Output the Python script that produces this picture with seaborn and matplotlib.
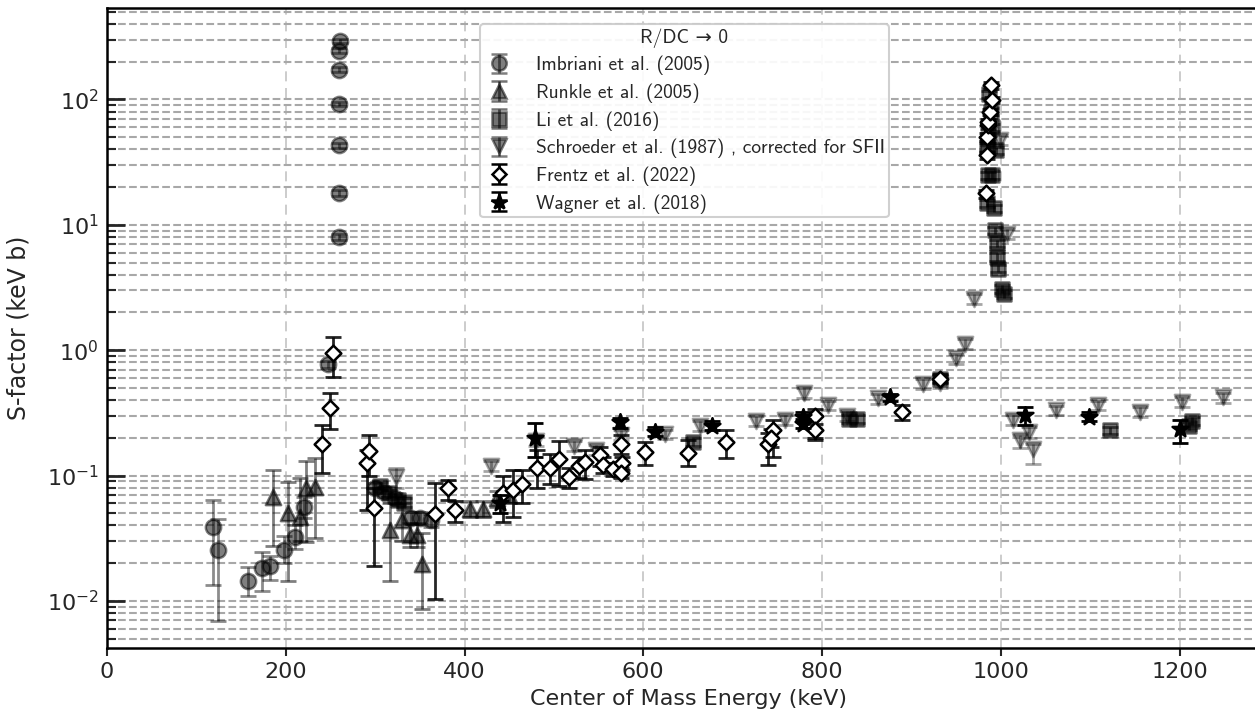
import numpy as np
import matplotlib
matplotlib.use("Agg")
import matplotlib.pyplot as plt
import seaborn as sns
import pandas as pd

# ---- data: centre-of-mass energy (keV), S-factor (keV b), lower / upper error bounds ----
imb_E = [119, 124, 158, 173, 182, 198, 210, 220, 247.7,
         259, 259, 259, 259, 260, 260, 261, 300, 310, 322, 340, 350, 362]
imb_S = [0.039, 0.0254, 0.0145, 0.0184, 0.019, 0.0256, 0.0325, 0.0563, 0.77,
         8.0, 17.9, 43.0, 92.0, 172.0, 245.0, 292.0, 0.080, 0.074, 0.066, 0.046, 0.046, 0.044]
imb_lo = [0.0134, 0.0069, 0.011, 0.012, 0.0147, 0.020, 0.026, 0.046, 0.72,
          7.6, 17.0, 41.0, 88.0, 165.0, 235.0, 280.0, 0.072, 0.067, 0.060, 0.041, 0.041, 0.039]
imb_hi = [0.064, 0.045, 0.0186, 0.0245, 0.023, 0.033, 0.040, 0.068, 0.82,
          8.4, 18.8, 45.0, 96.0, 180.0, 255.0, 304.0, 0.088, 0.081, 0.072, 0.051, 0.051, 0.049]

run_E = [186, 203, 216, 223, 232.7, 317, 330, 339, 346.5, 352, 406, 421, 436, 450]
run_S = [0.068, 0.050, 0.047, 0.079, 0.081, 0.0367, 0.044, 0.0335, 0.0335, 0.0199,
         0.0546, 0.0546, 0.066, 0.070]
run_lo = [0.0275, 0.0144, 0.030, 0.0296, 0.0316, 0.0144, 0.030, 0.027, 0.027, 0.0086,
          0.047, 0.047, 0.056, 0.060]
run_hi = [0.110, 0.0886, 0.095, 0.131, 0.137, 0.060, 0.060, 0.042, 0.042, 0.035,
          0.063, 0.063, 0.076, 0.080]

li_E = [305, 316, 326, 332, 656, 830, 839, 932,
        984, 995, 986, 990, 984, 992, 994, 995.5, 995.5, 997, 1001, 1003,
        987, 989, 990, 986, 1122, 1210, 1214]
li_S = [0.083, 0.072, 0.064, 0.061, 0.186, 0.285, 0.285, 0.594,
        41.8, 39.4, 24.9, 25.0, 14.8, 13.5, 9.06, 7.1, 5.54, 4.48, 3.1, 2.83,
        110.0, 80.0, 60.0, 48.0, 0.230, 0.250, 0.273]
li_lo = [0.077, 0.067, 0.059, 0.056, 0.172, 0.265, 0.265, 0.555,
         39.0, 36.8, 23.2, 23.3, 13.8, 12.6, 8.45, 6.6, 5.15, 4.17, 2.88, 2.62,
         103.0, 74.5, 56.0, 44.8, 0.214, 0.233, 0.254]
li_hi = [0.089, 0.077, 0.069, 0.066, 0.200, 0.305, 0.305, 0.633,
         44.6, 42.0, 26.6, 26.7, 15.8, 14.4, 9.67, 7.6, 5.93, 4.79, 3.32, 3.04,
         117.0, 85.5, 64.0, 51.2, 0.246, 0.267, 0.292]

sch_E = [323, 430, 480, 522, 547, 575, 624, 663.5, 726, 758.6, 780, 807, 828, 863,
         913, 932, 950, 960, 970, 998.5, 1006.7, 1014, 1021.6, 1031, 1035.6, 1062,
         1108.5, 1156, 1202.5, 1249]
sch_S = [0.0966, 0.119, 0.190, 0.172, 0.160, 0.210, 0.214, 0.248, 0.273, 0.280, 0.457,
         0.364, 0.298, 0.412, 0.542, 0.550, 0.859, 1.13, 2.58, 47.3, 8.52, 0.277, 0.191,
         0.223, 0.164, 0.332, 0.364, 0.322, 0.387, 0.420]
sch_lo = [0.080, 0.108, 0.172, 0.156, 0.146, 0.191, 0.195, 0.226, 0.249, 0.255, 0.416,
          0.331, 0.271, 0.375, 0.493, 0.500, 0.782, 1.03, 2.35, 43.0, 7.75, 0.252, 0.165,
          0.200, 0.123, 0.302, 0.331, 0.293, 0.352, 0.382]
sch_hi = [0.115, 0.130, 0.208, 0.188, 0.174, 0.229, 0.233, 0.270, 0.297, 0.305, 0.498,
          0.397, 0.325, 0.449, 0.591, 0.600, 0.936, 1.23, 2.81, 51.6, 9.29, 0.302, 0.210,
          0.243, 0.180, 0.362, 0.397, 0.351, 0.422, 0.458]

fr_E = [240, 249, 253, 290.5, 293, 299, 367, 382, 389, 443.5, 454.6, 464, 481, 496, 506,
        517, 528.5, 535, 551.6, 555, 566, 575, 576, 575, 602, 650, 693, 740, 745.6, 743,
        792, 792, 889, 932, 983.5, 984, 985, 986, 986, 988, 990, 989]
fr_S = [0.177, 0.349, 0.95, 0.127, 0.157, 0.0547, 0.049, 0.079, 0.053, 0.073, 0.0765,
        0.085, 0.116, 0.116, 0.135, 0.097, 0.119, 0.128, 0.146, 0.121, 0.112, 0.178,
        0.125, 0.104, 0.155, 0.152, 0.186, 0.180, 0.230, 0.201, 0.298, 0.230, 0.322,
        0.594, 17.8, 35.9, 50.4, 62.3, 66.2, 79.7, 98.6, 130.0]
fr_lo = [0.104, 0.234, 0.61, 0.053, 0.100, 0.019, 0.0103, 0.064, 0.043, 0.043, 0.047,
         0.060, 0.080, 0.085, 0.082, 0.080, 0.095, 0.094, 0.120, 0.105, 0.100, 0.150,
         0.110, 0.095, 0.121, 0.119, 0.137, 0.121, 0.140, 0.170, 0.192, 0.200, 0.280,
         0.550, 16.5, 33.5, 47.0, 58.0, 62.0, 75.0, 93.0, 122.0]
fr_hi = [0.252, 0.457, 1.28, 0.160, 0.211, 0.080, 0.0865, 0.092, 0.063, 0.100, 0.110,
         0.110, 0.160, 0.150, 0.189, 0.115, 0.140, 0.160, 0.170, 0.140, 0.125, 0.210,
         0.140, 0.115, 0.186, 0.192, 0.233, 0.220, 0.277, 0.235, 0.338, 0.260, 0.364,
         0.640, 19.1, 38.3, 53.8, 66.6, 70.4, 84.4, 104.2, 138.0]

wag_E = [440, 479, 574, 613, 677, 779, 779, 876, 1027, 1099, 1200.6]
wag_S = [0.060, 0.198, 0.268, 0.223, 0.248, 0.294, 0.260, 0.420, 0.303, 0.294, 0.237]
wag_lo = [0.050, 0.140, 0.240, 0.205, 0.230, 0.270, 0.240, 0.390, 0.252, 0.270, 0.182]
wag_hi = [0.070, 0.263, 0.290, 0.245, 0.270, 0.320, 0.285, 0.450, 0.353, 0.320, 0.280]

labels = ["Imbriani et al. (2005)", "Runkle et al. (2005)", "Li et al. (2016)",
          "Schroeder et al. (1987) , corrected for SFII", "Frentz et al. (2022)",
          "Wagner et al. (2018)"]

series = [
    dict(E=imb_E, S=imb_S, lo=imb_lo, hi=imb_hi, marker="o", size=11, face="black",
         edge="black", alpha=0.5, ecol="black", ealpha=0.45, z=3),
    dict(E=run_E, S=run_S, lo=run_lo, hi=run_hi, marker="^", size=11, face="black",
         edge="black", alpha=0.55, ecol="black", ealpha=0.5, z=3),
    dict(E=li_E, S=li_S, lo=li_lo, hi=li_hi, marker="s", size=10, face="black",
         edge="black", alpha=0.55, ecol="black", ealpha=0.6, z=3),
    dict(E=sch_E, S=sch_S, lo=sch_lo, hi=sch_hi, marker="v", size=11, face="black",
         edge="black", alpha=0.35, ecol="black", ealpha=0.35, z=2),
    dict(E=fr_E, S=fr_S, lo=fr_lo, hi=fr_hi, marker="D", size=8, face="white",
         edge="black", alpha=1.0, ecol="black", ealpha=0.85, z=5),
    dict(E=wag_E, S=wag_S, lo=wag_lo, hi=wag_hi, marker="*", size=12, face="black",
         edge="black", alpha=1.0, ecol="black", ealpha=1.0, z=6),
]

sns.set_style("ticks")
plt.rcParams["font.family"] = ["DejaVu Sans"]
plt.rcParams["mathtext.fontset"] = "dejavusans"

fig = plt.figure(figsize=(12.55, 7.22), dpi=100)
ax = fig.add_axes([107 / 1255, 74 / 722, (1269 - 107) / 1255, 640 / 722])

handles = []
for lab, s in zip(labels, series):
    E = np.asarray(s["E"], float)
    S = np.asarray(s["S"], float)
    yerr = np.vstack([S - np.asarray(s["lo"]), np.asarray(s["hi"]) - S])
    ax.errorbar(E, S, yerr=yerr, fmt="none", ecolor=s["ecol"], alpha=s["ealpha"],
                elinewidth=2.0, capsize=6, capthick=2.0, zorder=s["z"])
    df = pd.DataFrame({"E": E, "S": S})
    sns.scatterplot(data=df, x="E", y="S", ax=ax, marker=s["marker"], s=s["size"] ** 2,
                    color=s["face"], edgecolor=s["edge"], linewidth=1.8,
                    alpha=s["alpha"], zorder=s["z"] + 0.5, legend=False)
    # legend proxy (no visible data)
    h = ax.errorbar([np.nan], [np.nan], yerr=[[1.0], [1.0]], fmt=s["marker"],
                    ms=s["size"] * 0.95, mfc=s["face"], mec=s["edge"], mew=1.8,
                    color=s["ecol"], ecolor=s["ecol"], elinewidth=2.0, capsize=6,
                    capthick=2.0, alpha=max(s["alpha"], 0.5), label=lab)
    handles.append(h)

ax.set_yscale("log")
ax.set_xlim(0, 1300)
ax.set_ylim(10 ** -2.375, 10 ** 2.729)

ax.set_xticks([0, 200, 400, 600, 800, 1000, 1200])
ax.grid(which="major", axis="y", ls="--", color="#a8a8a8", lw=1.5)
ax.grid(which="minor", axis="y", ls="--", color="#a8a8a8", lw=1.5)
ax.grid(which="major", axis="x", ls=(0, (6, 4)), color="#c4c4c4", lw=1.2)
ax.set_axisbelow(True)

ax.tick_params(axis="y", which="major", direction="in", length=13, width=2, labelsize=16, pad=6)
ax.tick_params(axis="y", which="minor", direction="in", length=6.5, width=1.5)
ax.tick_params(axis="x", which="major", direction="out", length=6, width=1.5, labelsize=16, pad=4)
for side in ["left", "bottom", "top", "right"]:
    ax.spines[side].set_linewidth(1.8)
    ax.spines[side].set_color("black")

ax.set_xlabel("Center of Mass Energy (keV)", fontsize=16, labelpad=5)
ax.set_ylabel("S-factor (keV b)", fontsize=17, labelpad=12)

leg = ax.legend(handles=handles, labels=labels, title="R/DC \u2192 0",
                loc="upper left", bbox_to_anchor=(363 / 1162, 0.99),
                prop={"family": ["cmss10", "DejaVu Sans"], "size": 14},
                title_fontproperties={"family": ["cmss10", "DejaVu Sans"], "size": 14},
                frameon=True, framealpha=0.92, edgecolor="#cccccc", fancybox=True,
                labelspacing=0.42, handletextpad=1.1, borderpad=0.2, handlelength=1.6)
leg.get_frame().set_linewidth(1.5)

fig.savefig("out.png", dpi=100)
